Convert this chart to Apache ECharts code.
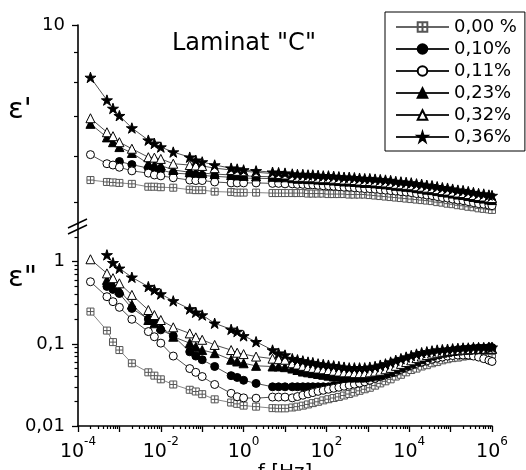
<!DOCTYPE html>
<html lang="pl">
<head>
<meta charset="UTF-8">
<title>Laminat "C"</title>
<script src="https://cdn.jsdelivr.net/npm/echarts@6/dist/echarts.min.js"></script>
<style>
  html, body { margin: 0; padding: 0; background: #fff; }
  #chart { width: 526px; height: 470px; }
</style>
</head>
<body>
<div id="chart"></div>
<script>
// frequency points [Hz]
var freqHz = [0.0002, 0.0005, 0.0007, 0.001, 0.002, 0.005, 0.007, 0.01, 0.02, 0.05,
  0.07, 0.1, 0.2, 0.5, 0.7, 1, 2, 5, 7, 10,
  15, 20, 27, 36, 47, 63, 84, 112, 150, 200,
  267, 356, 474, 632, 843, 1120, 1500, 2000, 2670, 3560,
  4740, 6320, 8430, 11200, 15000, 20000, 26700, 35600, 47400, 63200,
  84300, 112000, 150000, 200000, 267000, 356000, 474000, 632000, 843000, 1000000];

var legendNames = ['0,00 %', '0,10%', '0,11%', '0,23%', '0,32%', '0,36%'];

// eps' (upper panel)
var epsReal000 = [5.46, 5.42, 5.41, 5.40, 5.38, 5.32, 5.32, 5.31, 5.30, 5.26,
  5.25, 5.25, 5.22, 5.21, 5.20, 5.20, 5.20, 5.19, 5.19, 5.19,
  5.19, 5.19, 5.19, 5.18, 5.18, 5.18, 5.18, 5.17, 5.17, 5.17,
  5.17, 5.16, 5.16, 5.16, 5.16, 5.15, 5.14, 5.13, 5.12, 5.11,
  5.10, 5.09, 5.08, 5.07, 5.06, 5.05, 5.04, 5.03, 5.01, 5.00,
  4.98, 4.97, 4.95, 4.94, 4.92, 4.91, 4.89, 4.88, 4.87, 4.86];
var epsReal010 = [null, null, null, 5.87, 5.80, 5.72, 5.69, 5.68, 5.61, 5.59,
  5.57, 5.56, 5.54, 5.52, 5.51, 5.50, 5.50, 5.49, 5.48, 5.48,
  5.47, 5.46, 5.46, 5.45, 5.45, 5.44, 5.43, 5.43, 5.42, 5.41,
  5.40, 5.40, 5.39, 5.38, 5.37, 5.37, 5.36, 5.35, 5.34, 5.33,
  5.31, 5.30, 5.29, 5.28, 5.26, 5.25, 5.23, 5.22, 5.20, 5.18,
  5.17, 5.15, 5.13, 5.12, 5.10, 5.08, 5.06, 5.05, 5.03, 5.02];
var epsReal011 = [6.03, 5.82, 5.79, 5.74, 5.66, 5.61, 5.57, 5.55, 5.51, 5.46,
  5.45, 5.45, 5.42, 5.40, 5.40, 5.40, 5.40, 5.39, 5.39, 5.38,
  5.38, 5.37, 5.37, 5.36, 5.36, 5.35, 5.34, 5.34, 5.33, 5.32,
  5.31, 5.31, 5.30, 5.29, 5.28, 5.28, 5.27, 5.26, 5.25, 5.24,
  5.23, 5.22, 5.21, 5.20, 5.18, 5.17, 5.15, 5.14, 5.12, 5.10,
  5.09, 5.07, 5.05, 5.04, 5.02, 5.00, 4.98, 4.97, 4.95, 4.94];
var epsReal023 = [6.80, 6.45, 6.33, 6.21, 6.07, 5.82, 5.79, 5.78, 5.68, 5.63,
  5.62, 5.61, 5.59, 5.57, 5.56, 5.55, 5.54, 5.53, 5.52, 5.52,
  5.50, 5.49, 5.49, 5.48, 5.48, 5.47, 5.46, 5.46, 5.45, 5.44,
  5.43, 5.43, 5.42, 5.41, 5.40, 5.40, 5.39, 5.38, 5.37, 5.36,
  5.34, 5.33, 5.32, 5.31, 5.29, 5.28, 5.26, 5.25, 5.23, 5.21,
  5.20, 5.18, 5.16, 5.15, 5.13, 5.11, 5.09, 5.08, 5.06, 5.05];
var epsReal032 = [6.95, 6.58, 6.48, 6.33, 6.17, 5.97, 5.96, 5.93, 5.82, 5.79,
  5.78, 5.77, 5.72, 5.68, 5.66, 5.65, 5.63, 5.60, 5.59, 5.58,
  5.54, 5.53, 5.53, 5.52, 5.52, 5.51, 5.50, 5.50, 5.49, 5.48,
  5.47, 5.47, 5.46, 5.45, 5.44, 5.44, 5.43, 5.42, 5.41, 5.40,
  5.38, 5.37, 5.36, 5.35, 5.33, 5.32, 5.30, 5.29, 5.27, 5.25,
  5.24, 5.22, 5.20, 5.19, 5.17, 5.15, 5.13, 5.12, 5.10, 5.09];
var epsReal036 = [8.15, 7.46, 7.22, 7.02, 6.69, 6.38, 6.30, 6.21, 6.09, 5.97,
  5.90, 5.86, 5.79, 5.72, 5.70, 5.68, 5.66, 5.63, 5.62, 5.61,
  5.59, 5.58, 5.58, 5.57, 5.57, 5.56, 5.55, 5.55, 5.54, 5.53,
  5.52, 5.52, 5.51, 5.50, 5.49, 5.49, 5.48, 5.47, 5.46, 5.45,
  5.43, 5.42, 5.41, 5.40, 5.38, 5.37, 5.35, 5.34, 5.32, 5.30,
  5.29, 5.27, 5.25, 5.24, 5.22, 5.20, 5.18, 5.17, 5.15, 5.14];

// eps'' (lower panel)
var epsImag000 = [0.247, 0.145, 0.105, 0.084, 0.058, 0.045, 0.041, 0.037, 0.032, 0.0276,
  0.0263, 0.0244, 0.0211, 0.0193, 0.0186, 0.0177, 0.0172, 0.0165, 0.0164, 0.0164,
  0.0168, 0.0172, 0.0177, 0.0183, 0.0190, 0.0197, 0.0205, 0.0212, 0.0219, 0.0226,
  0.0235, 0.0245, 0.0256, 0.0268, 0.0280, 0.0292, 0.031, 0.033, 0.035, 0.037,
  0.040, 0.042, 0.045, 0.048, 0.050, 0.053, 0.055, 0.058, 0.060, 0.063,
  0.065, 0.067, 0.068, 0.070, 0.071, 0.072, 0.073, 0.073, 0.074, 0.074];
var epsImag010 = [null, 0.50, 0.46, 0.41, 0.27, 0.20, 0.186, 0.148, 0.125, 0.080,
  0.071, 0.064, 0.053, 0.041, 0.039, 0.036, 0.033, 0.030, 0.030, 0.030,
  0.030, 0.030, 0.030, 0.030, 0.030, 0.030, 0.030, 0.030, 0.031, 0.031,
  0.032, 0.033, 0.034, 0.035, 0.036, 0.038, 0.040, 0.042, 0.045, 0.047,
  0.050, 0.053, 0.057, 0.060, 0.063, 0.067, 0.070, 0.073, 0.076, 0.079,
  0.081, 0.083, 0.085, 0.086, 0.087, 0.088, 0.089, 0.089, 0.090, 0.090];
var epsImag011 = [0.57, 0.375, 0.326, 0.278, 0.199, 0.141, 0.122, 0.102, 0.071, 0.050,
  0.045, 0.040, 0.032, 0.025, 0.0227, 0.022, 0.0218, 0.0225, 0.0225, 0.0225,
  0.0220, 0.0228, 0.0237, 0.0246, 0.0255, 0.0264, 0.0272, 0.0280, 0.0288, 0.0296,
  0.0305, 0.0314, 0.0323, 0.0333, 0.0345, 0.036, 0.038, 0.040, 0.042, 0.044,
  0.046, 0.049, 0.052, 0.055, 0.058, 0.060, 0.062, 0.065, 0.067, 0.069,
  0.071, 0.072, 0.073, 0.073, 0.073, 0.071, 0.069, 0.066, 0.063, 0.061];
var epsImag023 = [null, 0.60, 0.52, 0.45, 0.30, 0.195, 0.178, 0.162, 0.122, 0.102,
  0.092, 0.084, 0.077, 0.064, 0.061, 0.058, 0.054, 0.053, 0.053, 0.052,
  0.050, 0.048, 0.046, 0.045, 0.044, 0.043, 0.042, 0.041, 0.040, 0.040,
  0.039, 0.039, 0.039, 0.039, 0.039, 0.040, 0.041, 0.042, 0.044, 0.046,
  0.049, 0.052, 0.055, 0.058, 0.062, 0.065, 0.069, 0.072, 0.075, 0.078,
  0.080, 0.082, 0.083, 0.084, 0.085, 0.086, 0.086, 0.087, 0.087, 0.087];
var epsImag032 = [1.07, 0.72, 0.63, 0.545, 0.394, 0.258, 0.224, 0.195, 0.159, 0.134,
  0.120, 0.112, 0.097, 0.084, 0.078, 0.075, 0.070, 0.066, 0.065, 0.064,
  0.058, 0.056, 0.054, 0.052, 0.051, 0.050, 0.049, 0.048, 0.047, 0.046,
  0.045, 0.045, 0.044, 0.044, 0.044, 0.045, 0.046, 0.047, 0.049, 0.051,
  0.054, 0.057, 0.060, 0.063, 0.067, 0.070, 0.073, 0.076, 0.078, 0.080,
  0.082, 0.083, 0.084, 0.085, 0.086, 0.086, 0.087, 0.087, 0.087, 0.087];
var epsImag036 = [null, 1.21, 0.97, 0.83, 0.646, 0.497, 0.453, 0.404, 0.333, 0.266,
  0.242, 0.224, 0.178, 0.150, 0.141, 0.125, 0.106, 0.084, 0.077, 0.073,
  0.066, 0.064, 0.062, 0.060, 0.059, 0.057, 0.056, 0.055, 0.054, 0.053,
  0.052, 0.051, 0.051, 0.051, 0.051, 0.052, 0.053, 0.055, 0.057, 0.060,
  0.063, 0.066, 0.069, 0.072, 0.075, 0.078, 0.080, 0.082, 0.084, 0.085,
  0.086, 0.087, 0.088, 0.089, 0.089, 0.090, 0.090, 0.090, 0.091, 0.091];

// ticks
var xLabelExp = [-4, -2, 0, 2, 4, 6];
var xMajorExp = [-4, -3, -2, -1, 0, 1, 2, 3, 4, 5, 6];
var minorMantissa = [2, 3, 4, 5, 6, 7, 8, 9];
var upperRange = [4.6, 10];
var upperMajor = [10];
var upperMinor = [5, 6, 7, 8, 9];
var lowerRange = [0.01, 2.875];
var lowerMajor = [0.01, 0.1, 1];
var lowerMinor = [0.02, 0.03, 0.04, 0.05, 0.06, 0.07, 0.08, 0.09,
  0.2, 0.3, 0.4, 0.5, 0.6, 0.7, 0.8, 0.9, 2];

var FONT = 'DejaVu Sans';
var lg = Math.log10;

var xMinor = [];
for (var n = -4; n < 6; n++) {
  minorMantissa.forEach(function (m) { xMinor.push(n + lg(m)); });
}

var starPath = 'path://M50 0L61.23 34.55L97.55 34.55L68.17 55.9L79.39 90.45L50 69.1L20.61 90.45L31.83 55.9L2.45 34.55L38.77 34.55Z';
var looks = [
  { symbol: 'path://M0 0H10V10H0Z M5 0V10 M0 5H10', size: 7, fill: '#fff', stroke: '#555', line: '#666' },
  { symbol: 'circle', size: 8, fill: '#000', stroke: '#000', line: '#222' },
  { symbol: 'circle', size: 8, fill: '#fff', stroke: '#000', line: '#222' },
  { symbol: 'triangle', size: 9, fill: '#000', stroke: '#000', line: '#222' },
  { symbol: 'triangle', size: 9, fill: '#fff', stroke: '#000', line: '#222' },
  { symbol: starPath, size: 11, fill: '#000', stroke: '#000', line: '#222' }
];

function toPairs(vals) {
  return freqHz.map(function (f, i) {
    return vals[i] == null ? [lg(f), '-'] : [lg(f), lg(vals[i])];
  });
}

function makeSeries(idx, vals, xi, yi) {
  var s = looks[idx];
  return {
    name: legendNames[idx], type: 'line',
    xAxisIndex: xi, yAxisIndex: yi,
    data: toPairs(vals),
    symbol: s.symbol, symbolSize: s.size, symbolKeepAspect: true,
    showAllSymbol: true, connectNulls: false,
    lineStyle: { color: s.line, width: 0.8 },
    itemStyle: { color: s.fill, borderColor: s.stroke, borderWidth: 1 }
  };
}

var upperSets = [epsReal000, epsReal010, epsReal011, epsReal023, epsReal032, epsReal036];
var lowerSets = [epsImag000, epsImag010, epsImag011, epsImag023, epsImag032, epsImag036];
var series = [];
upperSets.forEach(function (v, i) { series.push(makeSeries(i, v, 0, 0)); });
lowerSets.forEach(function (v, i) { series.push(makeSeries(i, v, 1, 2)); });

function hiddenAxis(grid, pos, range) {
  return { type: 'value', gridIndex: grid, position: pos, min: range[0], max: range[1],
    axisLine: { show: false, onZero: false }, axisTick: { show: false },
    axisLabel: { show: false }, splitLine: { show: false } };
}

function minorAxis(grid, pos, range, ticks, len) {
  var a = hiddenAxis(grid, pos, range);
  a.axisTick = { show: true, length: len, customValues: ticks,
    lineStyle: { color: '#000', width: 1.2 } };
  return a;
}

var chart = echarts.init(document.getElementById('chart'));
chart.setOption({
  animation: false,
  backgroundColor: '#fff',
  textStyle: { fontFamily: FONT },
  title: {
    text: 'Laminat "C"', left: 172, top: 32, padding: 0,
    textStyle: { fontFamily: FONT, fontSize: 24, fontWeight: 'normal', color: '#000' }
  },
  legend: {
    data: legendNames, orient: 'vertical', left: 385, top: 12,
    padding: [6, 8, 5, 10], itemWidth: 53, itemHeight: 12, itemGap: 4,
    borderColor: '#000', borderWidth: 1, backgroundColor: '#fff',
    selectedMode: false,
    textStyle: { fontFamily: FONT, fontSize: 18, color: '#000' }
  },
  grid: [
    { left: 78, top: 25, width: 414, height: 199, outerBoundsMode: 'none' },
    { left: 78, top: 224, width: 414, height: 202, outerBoundsMode: 'none' }
  ],
  xAxis: [
    hiddenAxis(0, 'bottom', [-4, 6]),
    {
      type: 'value', gridIndex: 1, position: 'bottom', min: -4, max: 6,
      name: 'f [Hz]', nameLocation: 'middle', nameGap: 26,
      nameTextStyle: { fontFamily: FONT, fontSize: 20, color: '#000' },
      axisLine: { show: true, onZero: false, lineStyle: { color: '#000', width: 1.6 } },
      axisTick: { show: true, length: 6, customValues: xMajorExp, lineStyle: { color: '#000', width: 1.3 } },
      axisLabel: {
        customValues: xLabelExp, margin: 10, color: '#000',
        formatter: function (v) { return '{b|10}{s|' + v + '}'; },
        rich: {
          b: { fontFamily: FONT, fontSize: 19, lineHeight: 26, verticalAlign: 'bottom', color: '#000' },
          s: { fontFamily: FONT, fontSize: 12, lineHeight: 12, verticalAlign: 'top', color: '#000' }
        }
      },
      splitLine: { show: false }
    },
    minorAxis(1, 'bottom', [-4, 6], xMinor, 3)
  ],
  yAxis: [
    {
      type: 'value', gridIndex: 0, position: 'left', min: lg(upperRange[0]), max: lg(upperRange[1]),
      axisLine: { show: true, onZero: false, lineStyle: { color: '#000', width: 1.6 } },
      axisTick: { show: true, length: 6, customValues: upperMajor.map(lg), lineStyle: { color: '#000', width: 1.3 } },
      axisLabel: {
        customValues: upperMajor.map(lg), margin: 13, color: '#000', fontFamily: FONT, fontSize: 18,
        formatter: function (v) { return String(Math.round(Math.pow(10, v))); }
      },
      splitLine: { show: false }
    },
    minorAxis(0, 'left', [lg(upperRange[0]), lg(upperRange[1])], upperMinor.map(lg), 4),
    {
      type: 'value', gridIndex: 1, position: 'left', min: lg(lowerRange[0]), max: lg(lowerRange[1]),
      axisLine: { show: true, onZero: false, lineStyle: { color: '#000', width: 1.6 } },
      axisTick: { show: true, length: 6, customValues: lowerMajor.map(lg), lineStyle: { color: '#000', width: 1.3 } },
      axisLabel: {
        customValues: lowerMajor.map(lg), margin: 13, color: '#000', fontFamily: FONT, fontSize: 18,
        formatter: function (v) {
          return String(Math.round(Math.pow(10, v) * 1000) / 1000).replace('.', ',');
        }
      },
      splitLine: { show: false }
    },
    minorAxis(1, 'left', [lg(lowerRange[0]), lg(lowerRange[1])], lowerMinor.map(lg), 3.5)
  ],
  graphic: [
    { type: 'text', left: 8, top: 96, style: { text: "\u03b5'", font: '29px "DejaVu Sans"', fill: '#000' } },
    { type: 'text', left: 8, top: 264, style: { text: '\u03b5"', font: '29px "DejaVu Sans"', fill: '#000' } },
    { type: 'line', shape: { x1: 68, y1: 228, x2: 87, y2: 219 }, style: { stroke: '#000', lineWidth: 1.4 } },
    { type: 'line', shape: { x1: 68, y1: 234, x2: 87, y2: 225 }, style: { stroke: '#000', lineWidth: 1.4 } }
  ],
  series: series
});
</script>
</body>
</html>
